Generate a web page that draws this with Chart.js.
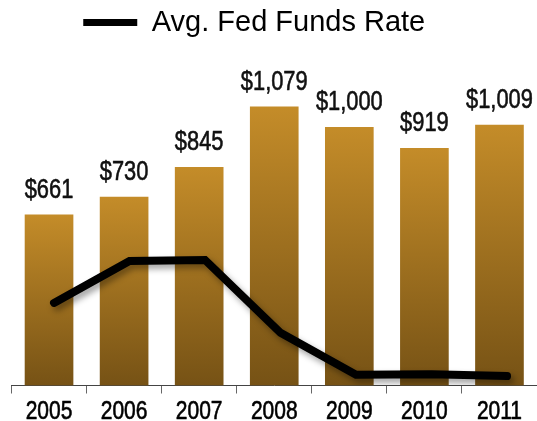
<!DOCTYPE html>
<html>
<head>
<meta charset="utf-8">
<script src="https://cdn.jsdelivr.net/npm/chart.js@4.4.1/dist/chart.umd.min.js"></script>
<style>
  html, body { margin: 0; padding: 0; background: #ffffff; }
  canvas { display: block; }
</style>
</head>
<body>
<canvas id="c" width="537" height="421"></canvas>
<script>
const years = ['2005', '2006', '2007', '2008', '2009', '2010', '2011'];
const barValues = [661, 730, 845, 1079, 1000, 919, 1009];
const fedFundsRate = [3.20, 4.97, 5.02, 1.93, 0.16, 0.18, 0.10];
const seriesName = 'Avg. Fed Funds Rate';

const SANS = "'Liberation Sans', Arial, Helvetica, sans-serif";

// draw text horizontally condensed (narrow face look)
function drawNarrowText(ctx, text, x, y, size, squeeze) {
  ctx.save();
  ctx.font = size + 'px ' + SANS;
  ctx.textAlign = 'center';
  ctx.textBaseline = 'alphabetic';
  ctx.translate(x, y);
  ctx.scale(squeeze, 1);
  ctx.lineWidth = 0.6;
  ctx.lineJoin = 'round';
  ctx.strokeStyle = ctx.fillStyle;
  ctx.fillText(text, 0, 0);
  ctx.strokeText(text, 0, 0);
  ctx.restore();
}

const valueLabelPlugin = {
  id: 'valueLabels',
  afterDatasetsDraw(chart) {
    const meta = chart.getDatasetMeta(0);
    const ctx = chart.ctx;
    ctx.save();
    ctx.fillStyle = '#111111';
    meta.data.forEach((el, i) => {
      drawNarrowText(ctx, '$' + barValues[i].toLocaleString('en-US'), el.x, el.y - 17, 27, 0.81);
    });
    ctx.restore();
  }
};

const tickLabelPlugin = {
  id: 'narrowTickLabels',
  afterDraw(chart) {
    const sx = chart.scales.x;
    const ctx = chart.ctx;
    ctx.save();
    ctx.fillStyle = '#000000';
    sx.ticks.forEach((t, i) => {
      drawNarrowText(ctx, sx.getLabelForValue(t.value), sx.getPixelForTick(i), sx.top + 33.5, 25, 0.84);
    });
    ctx.restore();
  }
};

const lineShadowPlugin = {
  id: 'lineShadow',
  beforeDatasetDraw(chart, args) {
    if (args.index !== 1) return;
    const ctx = chart.ctx;
    ctx.save();
    ctx.shadowColor = 'rgba(0,0,0,0.38)';
    ctx.shadowBlur = 6;
    ctx.shadowOffsetX = 3;
    ctx.shadowOffsetY = 4;
  },
  afterDatasetDraw(chart, args) {
    if (args.index !== 1) return;
    chart.ctx.restore();
  }
};

const legendShiftPlugin = {
  id: 'legendShift',
  afterLayout(chart) {
    if (chart.legend) {
      chart.legend.right -= 40;
    }
  }
};

new Chart(document.getElementById('c'), {
  type: 'bar',
  data: {
    labels: years,
    datasets: [
      {
        type: 'bar',
        label: 'Value',
        data: barValues,
        xAxisID: 'x',
        yAxisID: 'y',
        grouped: false,
        barThickness: 48,
        borderWidth: 0,
        backgroundColor: (context) => {
          const chart = context.chart;
          if (!chart.chartArea || context.type !== 'data') return '#B07E26';
          const ys = chart.scales.y;
          const top = ys.getPixelForValue(context.raw);
          const base = ys.getPixelForValue(0);
          const g = chart.ctx.createLinearGradient(0, top, 0, base);
          g.addColorStop(0, '#C48C29');
          g.addColorStop(1, '#765215');
          return g;
        },
        order: 2
      },
      {
        type: 'line',
        label: seriesName,
        data: fedFundsRate.map((v, i) => ({ x: i, y: v })),
        xAxisID: 'xl',
        yAxisID: 'y2',
        borderColor: '#000000',
        backgroundColor: '#000000',
        borderWidth: 8,
        borderCapStyle: 'round',
        borderJoinStyle: 'miter',
        pointRadius: 0,
        pointHoverRadius: 0,
        tension: 0,
        fill: false,
        order: 1
      }
    ]
  },
  options: {
    responsive: false,
    animation: false,
    events: [],
    layout: { padding: { left: 11.5, right: 0, top: 0, bottom: 27.5 } },
    plugins: {
      tooltip: { enabled: false },
      legend: {
        display: true,
        position: 'top',
        labels: {
          boxWidth: 54,
          boxHeight: 7,
          padding: 8,
          color: '#000000',
          font: { family: SANS, size: 29 },
          generateLabels: (chart) => {
            return Chart.defaults.plugins.legend.labels.generateLabels(chart)
              .filter(l => l.datasetIndex === 1)
              .map(l => Object.assign({}, l, { fillStyle: '#000000', strokeStyle: '#000000', lineWidth: 0 }));
          }
        }
      }
    },
    scales: {
      x: {
        type: 'category',
        position: 'bottom',
        offset: true,
        grid: {
          offset: true,
          drawOnChartArea: false,
          drawTicks: true,
          tickLength: 8,
          color: '#666666',
          lineWidth: 1
        },
        border: { display: true, color: '#444444', width: 1 },
        ticks: {
          display: false,
          autoSkip: false
        }
      },
      xl: {
        type: 'linear',
        display: false,
        offset: false,
        grid: { offset: false },
        min: -0.563,
        max: 6.397
      },
      y: {
        type: 'linear',
        display: false,
        min: 0,
        max: 1311
      },
      y2: {
        type: 'linear',
        display: false,
        min: -0.3,
        max: 14.04
      }
    }
  },
  plugins: [valueLabelPlugin, tickLabelPlugin, lineShadowPlugin, legendShiftPlugin]
});
</script>
</body>
</html>
